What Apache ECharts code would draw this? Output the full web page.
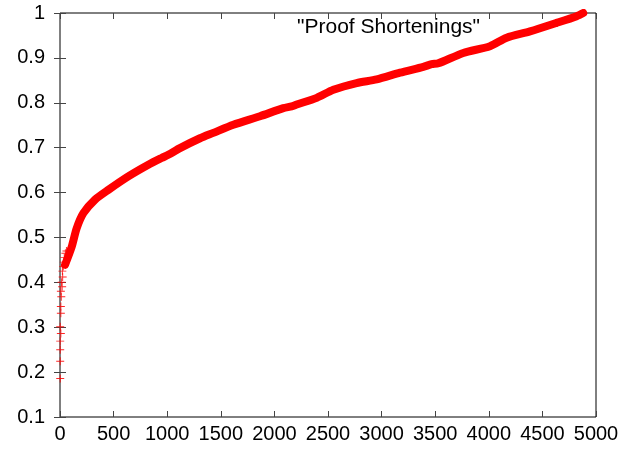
<!DOCTYPE html>
<html>
<head>
<meta charset="utf-8">
<script src="https://cdn.jsdelivr.net/npm/echarts@6/dist/echarts.min.js"></script>
<style>html,body{margin:0;padding:0;background:#fff;}#c{width:626px;height:453px;}</style>
</head>
<body>
<div id="c"></div>
<script>
// Values
var curveX = [47, 109, 155, 218, 326, 451, 637, 824, 948, 1010, 1119, 1306, 1430, 1617, 1866, 2083, 2161, 2208, 2395, 2550, 2767, 2954, 3172, 3389, 3467, 3529, 3762, 4011, 4167, 4384, 4633, 4820, 4881];
var curveY = [0.439, 0.479, 0.520, 0.554, 0.584, 0.606, 0.636, 0.662, 0.677, 0.684, 0.699, 0.721, 0.733, 0.751, 0.770, 0.788, 0.792, 0.796, 0.811, 0.829, 0.844, 0.852, 0.867, 0.880, 0.886, 0.888, 0.911, 0.926, 0.945, 0.959, 0.978, 0.993, 1.0];
var lowX = [2, 2, 2, 2, 8, 2, 8, 8, 12, 20, 8, 25, 15, 30, 22, 40, 35, 50, 60];
var lowY = [0.186, 0.224, 0.250, 0.269, 0.286, 0.301, 0.331, 0.346, 0.368, 0.390, 0.380, 0.412, 0.400, 0.435, 0.425, 0.455, 0.445, 0.465, 0.470];
var xTicks = [0, 500, 1000, 1500, 2000, 2500, 3000, 3500, 4000, 4500, 5000];
var yTicks = [0.1, 0.2, 0.3, 0.4, 0.5, 0.6, 0.7, 0.8, 0.9, 1];
var seriesName = '"Proof Shortenings"';

var curve = curveX.map(function (x, i) { return [x, curveY[i]]; });
var low = lowX.map(function (x, i) { return [x, lowY[i]]; });
var FONT = 'Liberation Sans, Arial, sans-serif';
var plus = 'path://M0,4.4H10V5.6H0Z M4.4,0H5.6V10H4.4Z';

var chart = echarts.init(document.getElementById('c'), null, {renderer: 'canvas'});
var axisCommon = {
  axisLine: {show: false},
  splitLine: {show: false},
  axisTick: {show: true, inside: true, length: 6, lineStyle: {color: '#444', width: 1}}
};
chart.setOption({
  animation: false,
  backgroundColor: '#fff',
  grid: {left: 60, right: 30, top: 13, bottom: 36, show: true, borderColor: '#000', borderWidth: 1, backgroundColor: 'transparent'},
  xAxis: [
    Object.assign({type: 'value', min: xTicks[0], max: xTicks[xTicks.length - 1], interval: 500, position: 'bottom',
      axisLabel: {color: '#000', fontSize: 20, fontFamily: FONT, margin: 7,
        formatter: function (v) { return String(v); }}}, axisCommon),
    Object.assign({type: 'value', min: xTicks[0], max: xTicks[xTicks.length - 1], interval: 500, position: 'top',
      axisLabel: {show: false}}, axisCommon)
  ],
  yAxis: [
    Object.assign({type: 'value', min: yTicks[0], max: yTicks[yTicks.length - 1], interval: 0.1, position: 'left',
      axisLabel: {color: '#000', fontSize: 20, fontFamily: FONT, margin: 15,
        formatter: function (v) { return String(Math.round(v * 10) / 10); }}}, axisCommon),
    Object.assign({type: 'value', min: yTicks[0], max: yTicks[yTicks.length - 1], interval: 0.1, position: 'right',
      axisLabel: {show: false}}, axisCommon)
  ],
  graphic: [{
    type: 'text', left: 297, top: 17,
    style: {text: seriesName, fontSize: 21, fontFamily: FONT, fill: '#000'}
  }],
  series: [
    {type: 'line', name: seriesName, data: curve, showSymbol: false, symbol: 'none', clip: true,
      smooth: 0.25,
      lineStyle: {color: '#ff0000', width: 8, cap: 'round', join: 'round'}, z: 3},
    {type: 'scatter', data: low, symbol: plus, symbolSize: 8, clip: true,
      itemStyle: {color: '#ff0000', opacity: 0.85}, z: 3}
  ]
});
</script>
</body>
</html>
